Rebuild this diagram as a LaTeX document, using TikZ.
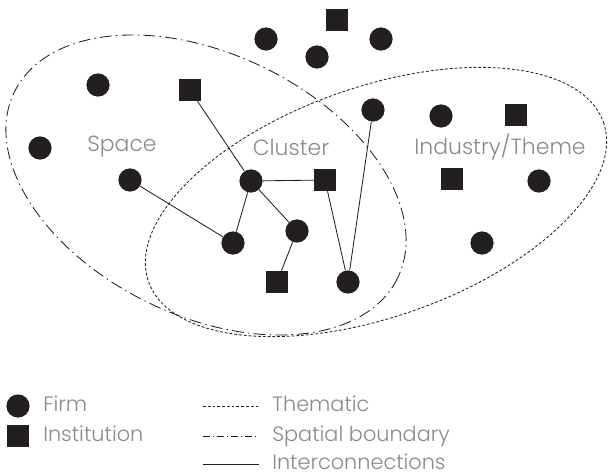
\documentclass[tikz,border=0pt]{standalone}
\usepackage{fontspec}
\setmainfont{Poppins Light}
\usetikzlibrary{positioning}
\definecolor{inkblack}{HTML}{231F20}
\definecolor{labelgray}{HTML}{8A8A8A}

\begin{document}
\begin{tikzpicture}[
        x=0.025cm, y=-0.025cm,
        firm/.style={circle, fill=inkblack, minimum size=5.8mm, inner sep=0pt},
        inst/.style={rectangle, fill=inkblack, minimum size=5.5mm, inner sep=0pt},
        link/.style={draw=inkblack, line width=0.6pt},
        thematic/.style={draw=inkblack, line width=0.6pt, dash pattern=on 2pt off 1.4pt},
        spatial/.style={draw=inkblack, line width=0.6pt, dash pattern=on 8.5pt off 3pt on 1pt off 3pt},
        tag/.style={text=labelgray, font=\fontsize{15.6}{18}\selectfont, inner sep=0pt},
        key/.style={text=labelgray, font=\fontsize{14.8}{17}\selectfont, inner sep=0pt, anchor=base west},
    ]
        \useasboundingbox (0,0) rectangle (608,474);

        % Draw the boundaries
        \draw[spatial, rotate around={-25.8:(206,185)}] (206,185) ellipse [x radius=213, y radius=131];
        \draw[thematic, rotate around={19.3:(376,202)}] (376,202) ellipse [x radius=241, y radius=115];

        % Draw the area labels
        \node[tag] (space) at (122,147) {Space};
        \node[tag] (cluster) at (291,147) {Cluster};
        \node[tag] (theme) at (500,147) {Industry/Theme};

        % Draw the firms
        \foreach \name / \x / \y in {1/266/39, 2/317/57, 3/381/39, 4/98/85, 5/40/148,
                6/373/110, 7/441/116, 8/130/180, 9/251/181, 10/539/181,
                11/233/243, 12/297/231, 13/482/243, 14/348/282}
            \node[firm] (F-\name) at (\x,\y) {};

        % Draw the institutions
        \foreach \name / \x / \y in {1/337/20, 2/190/90, 3/516/115, 4/325/180, 5/452/179, 6/277/282}
            \node[inst] (I-\name) at (\x,\y) {};

        % Connect the cluster members
        \path (I-2) edge[link] (F-9);
        \path (F-9) edge[link] (I-4);
        \path (F-9) edge[link] (F-11);
        \path (F-9) edge[link] (F-12);
        \path (F-8) edge[link] (F-11);
        \path (F-12) edge[link] (I-6);
        \path (I-4) edge[link] (F-14);
        \path (F-6) edge[link] (F-14);

        % Draw the legend
        \node[firm] (key-firm) at (18,406) {};
        \node[inst] (key-inst) at (18,436) {};
        \node[key] (key-firm-text) at (43,411) {Firm};
        \node[key] (key-inst-text) at (43,441) {Institution};

        \coordinate (th-a) at (203,406);
        \coordinate (th-b) at (259,406);
        \coordinate (sp-a) at (203,436);
        \coordinate (sp-b) at (259,436);
        \coordinate (ic-a) at (203,464);
        \coordinate (ic-b) at (259,464);
        \draw[thematic] (th-a) -- (th-b);
        \draw[spatial, dash pattern=on 5pt off 2pt on 1pt off 2pt] (sp-a) -- (sp-b);
        \draw[link] (ic-a) -- (ic-b);
        \node[key] (key-th) at (272,411) {Thematic};
        \node[key] (key-sp) at (272,441) {Spatial boundary};
        \node[key] (key-ic) at (272,469) {Interconnections};
\end{tikzpicture}
\end{document}
